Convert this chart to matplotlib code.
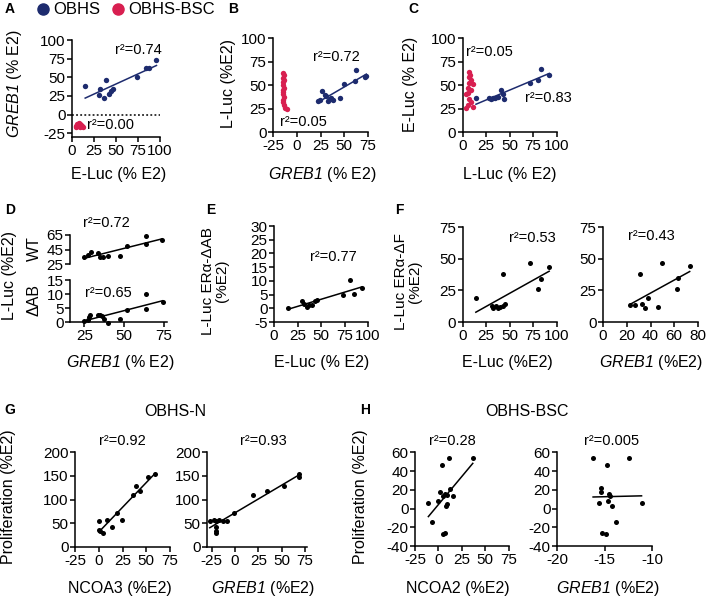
import numpy as np
import matplotlib
matplotlib.use("Agg")
import matplotlib.pyplot as plt
from matplotlib.lines import Line2D

plt.rcParams['font.family'] = ['Liberation Sans', 'DejaVu Sans']
plt.rcParams['mathtext.fontset'] = 'custom'
plt.rcParams['mathtext.it'] = 'Liberation Sans:italic'
plt.rcParams['mathtext.rm'] = 'Liberation Sans:italic'
plt.rcParams['axes.unicode_minus'] = False

BLUE = '#1d2b6e'
RED = '#d81f50'

# ---- data ----
# A : GREB1 vs E-Luc
a_eluc_obhs = [15, 31, 32, 36, 39, 42, 44, 47, 74, 84, 87, 96]
a_greb1_obhs = [38, 26, 35, 22, 46, 27, 32, 34, 50, 62, 62, 73]
a_eluc_bsc = [4, 5, 6, 7, 7, 8, 8, 9, 9, 10, 11, 12]
a_greb1_bsc = [-16, -15, -13, -12, -14, -11, -15, -13, -16, -14, -15, -16]

# B : L-Luc vs GREB1
b_greb1_obhs = [22.4, 24.8, 26.6, 29.4, 31.1, 32.9, 34.6, 36.4, 38.2, 45.2, 49.4, 61, 62, 71.5, 73.2]
b_lluc_obhs = [32.9, 33.9, 43.9, 39.3, 38.2, 32.9, 34.6, 36.4, 33.9, 36.4, 51.4, 54.3, 66, 59, 60]
b_greb1_bsc = [-14, -13, -14, -13, -15, -14, -13, -14, -15, -14, -13, -15, -14, -13, -12, -10]
b_lluc_bsc = [63.2, 60.7, 57.9, 55.4, 52.9, 50, 47, 44.6, 42.9, 40.4, 37.5, 33.9, 31.4, 28.6, 25.7, 24.3]

# C : E-Luc vs L-Luc
c_lluc_obhs = [14.3, 28.6, 30.4, 32.1, 35, 37.5, 41.1, 42.9, 44.6, 71.4, 80.4, 83.3, 92.2]
c_eluc_obhs = [36.4, 36.4, 34.6, 35.7, 36.4, 37.5, 44.6, 40, 34.6, 52.5, 55.4, 67.5, 60.4]
c_lluc_bsc = [6.4, 8.2, 7.1, 8.9, 6.4, 10.7, 5.4, 8.9, 3.6, 5.4, 7.1, 8.9, 5.4, 3.6, 10.7]
c_eluc_bsc = [64, 61, 58, 55, 52.5, 51, 47, 45, 40, 41, 35, 32, 29, 26, 26.4]

# D : L-Luc WT / dAB vs GREB1
d_greb1_wt = [24.6, 27.5, 29.2, 33.3, 35, 36.5, 39.6, 47.5, 51.7, 63.5, 64, 74]
d_wt = [34.2, 37.4, 42, 39.7, 34, 34, 36, 36, 50, 53, 64, 58]
d_greb1_dab = [24.6, 27.5, 28.1, 28.8, 33.3, 35, 36, 37.1, 39.6, 47.5, 51.7, 63.5, 64, 74.2]
d_dab = [0.4, 0.8, 1.8, 2.4, 2.4, 2.6, 2.0, 1.2, -0.4, 1.2, 4.4, 4.8, 10, 7.2]

# E : L-Luc ERa-dAB vs E-Luc
e_eluc = [15.2, 29.7, 32.2, 35.1, 37.3, 40.6, 43.1, 45.3, 73.2, 81.2, 84.8, 93.8]
e_dab = [0.1, 2.7, 1.7, 0.5, 1.1, 1.3, 2.7, 2.9, 4.8, 10.2, 5.1, 7.4]

# F : L-Luc ERa-dF vs E-Luc and GREB1
f_eluc = [14.2, 30.9, 32.6, 35.5, 37.9, 40.4, 43.3, 45, 42.6, 71.6, 79.8, 83, 92.2]
f_df_eluc = [18.9, 12.4, 11.3, 12.4, 11.3, 11.8, 12.4, 13.9, 38.2, 46.6, 26.3, 34.2, 43.4]
f_greb1 = [23, 27.2, 30.9, 33.1, 35.4, 37.9, 46.3, 50, 62.4, 63.2, 73]
f_df_greb1 = [13.7, 13.2, 38.2, 13.9, 11.3, 18.9, 11.8, 46.6, 26.3, 35, 43.9]

# G : OBHS-N proliferation
g_ncoa3 = [0.3, 0.3, 1.3, 4.8, 9, 13.6, 19.6, 24.1, 35.7, 38.9, 43.4, 51.5, 59.6]
g_prolif_ncoa3 = [54.7, 36.5, 33.7, 29.5, 57.5, 42.1, 71.6, 57.5, 108.8, 127.7, 117.9, 147.4, 153]
g_greb1 = [-27, -23, -20, -17, -13, -9, -20, -20, -20, -1.6, 18.7, 34, 52.5, 68.9, 68.9]
g_prolif_greb1 = [55, 57, 55, 56, 55, 54, 42, 34, 29, 72, 110, 118, 128, 147, 153]

# H : OBHS-BSC proliferation
h_ncoa2 = [-10.7, -7.1, 0, 1.8, 3.6, 5.4, 7.1, 7.9, 8.9, 9.6, 4.6, 7.1, 12.5, 15.4, 11.8, 36.8]
h_prolif_ncoa2 = [6.1, -14.3, 7.9, 17.9, 47.1, 13.2, 16.1, 2.5, 14.3, 5.4, -27.5, -26.1, 21.4, 13.2, 54.3, 54.6]
h_greb1 = [-16.2, -14.7, -15.4, -15.4, -15.6, -15.3, -14.8, -14.5, -14.4, -14.6, -14.2, -13.8, -12.4, -11.1]
h_prolif_greb1 = [53.6, 47.1, 22.5, 17.9, 6.1, -26.1, -27.5, 15.4, 13.6, 7.9, 2.5, -14.3, 54.6, 6.4]

W, H = 708, 597
fig = plt.figure(figsize=(W / 100, H / 100), dpi=100)

TICK = 11
LAB = 11.5
R2 = 10.5


def make_ax(left, right, top, bottom, xlim, ylim, xticks=None, yticks=None, bottom_spine=True):
    ax = fig.add_axes([left / W, 1 - bottom / H, (right - left) / W, (bottom - top) / H])
    ax.set_xlim(xlim)
    ax.set_ylim(ylim)
    ax.patch.set_alpha(0)
    for s in ['top', 'right']:
        ax.spines[s].set_visible(False)
    for s in ['left', 'bottom']:
        ax.spines[s].set_linewidth(1.1)
    ax.tick_params(direction='out', length=3.5, width=1.1, labelsize=TICK, pad=1.2)
    if xticks is not None:
        ax.set_xticks(xticks)
    if yticks is not None:
        ax.set_yticks(yticks)
    if not bottom_spine:
        ax.spines['bottom'].set_visible(False)
        ax.set_xticks([])
    return ax


def dots(ax, x, y, color='black', s=13):
    ax.scatter(x, y, s=s, color=color, linewidths=0, clip_on=False, zorder=3)


def fit(ax, x, y, color='black'):
    k, b = np.polyfit(x, y, 1)
    xs = np.array([min(x), max(x)])
    ax.plot(xs, k * xs + b, color=color, lw=1.1, clip_on=False, zorder=2)


def txt(x, y, s, size=LAB, ha='center', va='center', rot=0, **kw):
    fig.text(x / W, 1 - y / H, s, fontsize=size, ha=ha, va=va, rotation=rot, **kw)


GREB = '$\\mathrm{GREB1}$'

# ---------------- A ----------------
ax = make_ax(72, 160, 40, 137, (0, 100), (-30, 100), [0, 25, 50, 75, 100], [-25, 0, 25, 50, 75, 100])
ax.axhline(0, color='black', lw=1.1, ls=(0, (1.2, 1.5)))
dots(ax, a_eluc_obhs, a_greb1_obhs, BLUE, 15)
fit(ax, a_eluc_obhs, a_greb1_obhs, BLUE)
dots(ax, a_eluc_bsc, a_greb1_bsc, RED, 15)
txt(115, 50, 'r²=0.74', R2, ha='left')
txt(87, 125, 'r²=0.00', R2, ha='left')
txt(14, 84, GREB + ' (% E2)', LAB, rot=90)
txt(119, 175, 'E-Luc (% E2)', LAB)

# ---------------- B ----------------
ax = make_ax(273, 368, 38, 132, (-25, 75), (0, 100), [-25, 0, 25, 50, 75], [0, 25, 50, 75, 100])
dots(ax, b_greb1_obhs, b_lluc_obhs, BLUE, 15)
fit(ax, b_greb1_obhs, b_lluc_obhs, BLUE)
dots(ax, b_greb1_bsc, b_lluc_bsc, RED, 15)
txt(313, 57, 'r²=0.72', R2, ha='left')
txt(280, 122, 'r²=0.05', R2, ha='left')
txt(229, 84, 'L-Luc (%E2)', LAB, rot=90)
txt(322, 175, GREB + ' (% E2)', LAB)

# ---------------- C ----------------
ax = make_ax(462.5, 556.5, 38, 132, (0, 100), (0, 100), [0, 25, 50, 75, 100], [0, 25, 50, 75, 100])
dots(ax, c_lluc_obhs, c_eluc_obhs, BLUE, 15)
fit(ax, c_lluc_obhs, c_eluc_obhs, BLUE)
dots(ax, c_lluc_bsc, c_eluc_bsc, RED, 15)
txt(466, 52, 'r²=0.05', R2, ha='left')
txt(525, 98, 'r²=0.83', R2, ha='left')
txt(410, 84, 'E-Luc (% E2)', LAB, rot=90)
txt(510, 175, 'L-Luc (% E2)', LAB)

# ---------------- D ----------------
ax = make_ax(70, 167, 235, 264, (16, 77), (25, 65), None, [25, 45, 65], bottom_spine=False)
dots(ax, d_greb1_wt, d_wt)
fit(ax, d_greb1_wt, d_wt)
ax = make_ax(70, 167, 280, 322, (16, 77), (0, 15), [25, 50, 75], [0, 5, 10, 15])
dots(ax, d_greb1_dab, d_dab)
fit(ax, d_greb1_dab, d_dab)
txt(83, 223, 'r²=0.72', R2, ha='left')
txt(85, 293, 'r²=0.65', R2, ha='left')
txt(34, 249, 'WT', LAB, rot=90)
txt(34, 300, 'ΔAB', LAB, rot=90)
txt(10, 275, 'L-Luc (%E2)', LAB, rot=90)
txt(120, 362, GREB + ' (% E2)', LAB)

# ---------------- E ----------------
ax = make_ax(274, 368, 226, 322, (0, 100), (-5, 30), [0, 25, 50, 75, 100], [-5, 0, 5, 10, 15, 20, 25, 30])
dots(ax, e_eluc, e_dab)
fit(ax, e_eluc, e_dab)
txt(310, 257, 'r²=0.77', R2, ha='left')
txt(215, 281, 'L-Luc ERα-ΔAB\n(%E2)', 11, rot=90, linespacing=1.0)
txt(322, 362, 'E-Luc (% E2)', LAB)

# ---------------- F ----------------
ax = make_ax(462.5, 556.5, 227, 322, (0, 100), (0, 75), [0, 25, 50, 75, 100], [0, 25, 50, 75])
dots(ax, f_eluc, f_df_eluc)
fit(ax, f_eluc, f_df_eluc)
ax = make_ax(603, 698, 227, 322, (0, 80), (0, 75), [0, 20, 40, 60, 80], [0, 25, 50, 75])
dots(ax, f_greb1, f_df_greb1)
fit(ax, f_greb1, f_df_greb1)
txt(509, 238, 'r²=0.53', R2, ha='left')
txt(628, 236, 'r²=0.43', R2, ha='left')
txt(408, 282, 'L-Luc ERα-ΔF\n(%E2)', 11, rot=90, linespacing=1.0)
txt(507, 362, 'E-Luc (%E2)', LAB)
txt(651, 362, GREB + ' (%E2)', LAB)

# ---------------- G ----------------
ax = make_ax(75, 170, 452, 547, (-25, 75), (0, 200), [-25, 0, 25, 50, 75], [0, 50, 100, 150, 200])
dots(ax, g_ncoa3, g_prolif_ncoa3)
fit(ax, g_ncoa3, g_prolif_ncoa3)
ax = make_ax(207, 307, 452, 547, (-30, 77), (0, 200), [-25, 0, 25, 50, 75], [0, 50, 100, 150, 200])
dots(ax, g_greb1, g_prolif_greb1)
fit(ax, g_greb1, g_prolif_greb1)
txt(122, 441, 'r²=0.92', R2)
txt(263, 441, 'r²=0.93', R2)
txt(175, 412, 'OBHS-N', LAB)
txt(9, 497, 'Proliferation (%E2)', LAB, rot=90)
txt(120, 588, 'NCOA3 (%E2)', LAB)
txt(263, 588, GREB + ' (%E2)', LAB)

# ---------------- H ----------------
ax = make_ax(415, 508.5, 452.5, 546, (-25, 75), (-40, 60), [-25, 0, 25, 50, 75], [-40, -20, 0, 20, 40, 60])
dots(ax, h_ncoa2, h_prolif_ncoa2)
fit(ax, h_ncoa2, h_prolif_ncoa2)
ax = make_ax(557, 652, 452.5, 546, (-20, -10), (-40, 60), [-20, -15, -10], [-40, -20, 0, 20, 40, 60])
dots(ax, h_greb1, h_prolif_greb1)
fit(ax, h_greb1, h_prolif_greb1)
txt(452, 441, 'r²=0.28', R2)
txt(612, 441, 'r²=0.005', R2)
txt(527, 412, 'OBHS-BSC', LAB)
txt(360, 497, 'Proliferation (%E2)', LAB, rot=90)
txt(458, 588, 'NCOA2 (%E2)', LAB)
txt(608, 588, GREB + ' (%E2)', LAB)

# panel letters
for lx, ly, s in [(10, 9, 'A'), (233, 9, 'B'), (413, 9, 'C'), (10, 210, 'D'),
                  (211, 210, 'E'), (399, 210, 'F'), (10, 410, 'G'), (365, 410, 'H')]:
    txt(lx, ly, s, 10, weight='bold')

# legend
handles = [Line2D([], [], marker='o', ls='', color=BLUE, markersize=8),
           Line2D([], [], marker='o', ls='', color=RED, markersize=8)]
fig.legend(handles, ['OBHS', 'OBHS-BSC'], loc='center left', bbox_to_anchor=(35 / W, 1 - 10 / H),
           ncol=2, frameon=False, fontsize=12, handletextpad=0.1, columnspacing=0.55,
           handlelength=1.0, borderpad=0, borderaxespad=0)

fig.savefig('out.png', dpi=100)
